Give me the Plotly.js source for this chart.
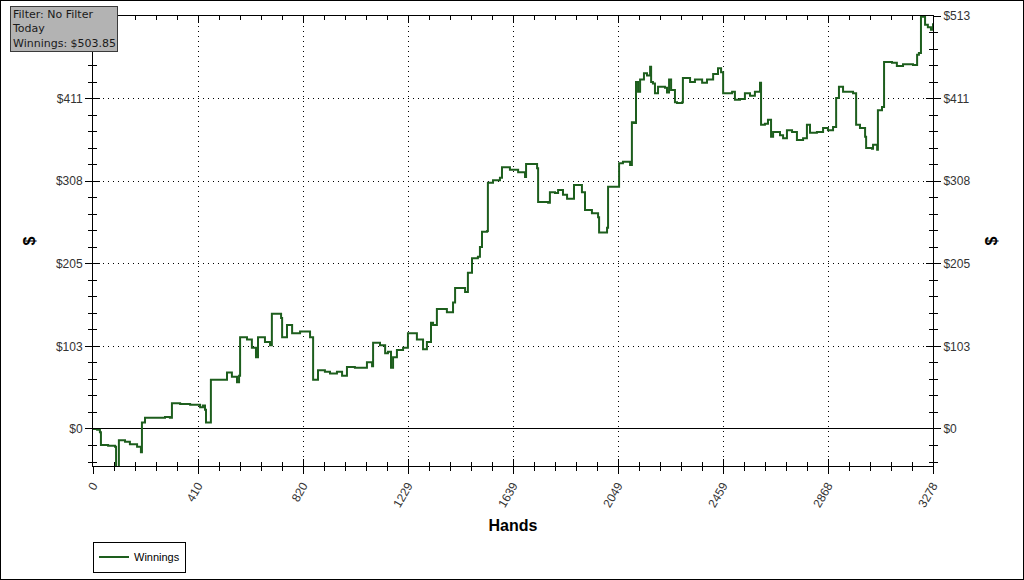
<!DOCTYPE html>
<html>
<head>
<meta charset="utf-8">
<script src="https://cdn.plot.ly/plotly-3.0.1.min.js"></script>
<style>
  html, body { margin: 0; padding: 0; background: #fff; }
  #frame { width: 1024px; height: 580px; box-sizing: border-box; border: 1px solid #000; }
  #chart { width: 1022px; height: 578px; }
</style>
</head>
<body>
<div id="frame"><div id="chart"></div></div>
<script>
// ---- data ----
const hands = [0,16,27,31,59,86,90,101,125,144,172,187,191,203,242,281,300,308,340,379,418,429,437,441,457,460,496,523,542,562,570,574,601,620,636,644,671,691,698,734,738,757,777,808,820,847,859,878,905,925,952,972,991,1022,1042,1069,1089,1093,1120,1140,1151,1163,1171,1186,1210,1229,1264,1288,1303,1319,1327,1342,1381,1405,1413,1452,1463,1479,1502,1510,1518,1538,1541,1561,1588,1596,1627,1659,1686,1690,1733,1737,1776,1783,1803,1815,1834,1850,1873,1877,1908,1920,1947,1971,1975,1998,2006,2010,2029,2049,2053,2068,2096,2103,2111,2119,2127,2135,2150,2162,2174,2178,2185,2193,2205,2232,2240,2248,2256,2271,2279,2299,2302,2330,2349,2377,2396,2420,2439,2451,2459,2494,2505,2525,2544,2564,2583,2603,2607,2622,2634,2646,2654,2681,2693,2708,2728,2747,2771,2786,2798,2825,2849,2868,2888,2900,2911,2927,2966,2978,2993,3013,3017,3040,3044,3060,3063,3079,3087,3118,3137,3161,3188,3200,3216,3223,3231,3239,3247,3258,3270,3278];
const winnings = [0,-1,-4,-20,-21,-22,-51,-14,-16,-19,-22,-29,8,14,14,15,14,32,31,30,27,29,24,8,8,61,61,70,65,58,66,114,111,101,89,114,108,104,143,138,114,129,119,121,121,114,61,73,71,69,71,66,77,76,76,83,78,107,104,94,96,76,89,98,101,119,111,99,108,132,129,149,145,157,175,170,194,212,214,226,245,246,306,309,312,325,322,319,313,329,324,282,281,294,293,297,291,286,286,303,294,272,268,263,244,244,250,301,301,301,330,332,328,381,380,431,419,434,442,439,450,431,429,417,425,424,418,434,421,406,405,406,436,431,434,430,434,441,448,443,417,419,409,410,417,414,419,430,378,379,384,363,369,365,361,371,369,359,361,378,368,369,374,371,375,411,425,419,417,378,374,363,349,348,353,347,396,400,456,455,451,453,453,452,465,467,513,512,502,499,496,503.85];
const seriesName = "Winnings";
const xTickVals = [0, 409.75, 819.5, 1229.25, 1639, 2048.75, 2458.5, 2868.25, 3278];
const xTickLabels = ["0","410","820","1229","1639","2049","2459","2868","3278"];
const yTickVals = [0, 102.6, 205.2, 307.8, 410.4, 513];
const yTickLabelsRight = ["$0","$103","$205","$308","$411","$513"];
// on the left the top label is hidden behind the info box in the reference
const yTickLabelsLeft = ["$0","$103","$205","$308","$411",""];
const infoLines = ["Filter: No Filter", "Today", "Winnings: $503.85"];

// ---- chart ----
const xRange = [0, 3278];
const yRange = [-46, 513];
const tickFont = {family: "Liberation Sans, Arial, sans-serif", size: 12, color: "#333"};
const titleFont = {family: "Liberation Sans, Arial, sans-serif", size: 16, color: "#000", weight: "bold"};
const dotGrid = "1px,4px";

const traces = [
  {x: hands, y: winnings, type: "scatter", mode: "lines", name: seriesName,
   line: {color: "#1d5e1d", width: 2, shape: "hv"}, xaxis: "x", yaxis: "y"},
  {x: hands, y: winnings, type: "scatter", mode: "lines", showlegend: false, hoverinfo: "skip",
   opacity: 0, xaxis: "x", yaxis: "y2"},
  {x: hands, y: winnings, type: "scatter", mode: "lines", showlegend: false, hoverinfo: "skip",
   opacity: 0, xaxis: "x2", yaxis: "y3"}
];

const layout = {
  width: 1022, height: 578,
  margin: {l: 92, r: 90, t: 15, b: 113, autoexpand: false},
  paper_bgcolor: "#fff", plot_bgcolor: "#fff",
  showlegend: true,
  xaxis: {
    range: xRange, tickmode: "array", tickvals: xTickVals, ticktext: xTickLabels,
    ticks: "outside", ticklen: 7, tickcolor: "#000", tickwidth: 1,
    showline: true, linecolor: "#000", linewidth: 1, mirror: false,
    showgrid: true, gridcolor: "#000", gridwidth: 1, griddash: dotGrid,
    zeroline: false, tickangle: -60, tickfont: tickFont, automargin: false,
    minor: {ticks: "outside", ticklen: 4, tick0: 0, dtick: 3278/40, tickcolor: "#000", showgrid: false},
    title: {text: "Hands", font: titleFont, standoff: 10},
    fixedrange: true
  },
  xaxis2: {
    overlaying: "x", anchor: "y3", side: "bottom", range: xRange, automargin: false,
    tickmode: "array", tickvals: xTickVals, showticklabels: false,
    ticks: "inside", ticklen: 7, tickcolor: "#000", tickwidth: 1,
    showline: true, linecolor: "#000", linewidth: 1, mirror: "allticks",
    showgrid: false, zeroline: false,
    minor: {ticks: "inside", ticklen: 4, tick0: 0, dtick: 3278/40, tickcolor: "#000", showgrid: false}
  },
  yaxis: {
    range: yRange, tickmode: "array", tickvals: yTickVals, ticktext: yTickLabelsLeft,
    ticks: "outside", ticklen: 7, tickcolor: "#000", tickwidth: 1,
    showline: true, linecolor: "#000", linewidth: 1, automargin: false,
    showgrid: true, gridcolor: "#000", gridwidth: 1, griddash: dotGrid,
    zeroline: true, zerolinecolor: "#000", zerolinewidth: 1,
    tickfont: tickFont,
    minor: {ticks: "outside", ticklen: 4, tick0: 0, dtick: 102.6/5, tickcolor: "#000", showgrid: false},
    title: {text: "$", font: titleFont, standoff: 16},
    fixedrange: true
  },
  yaxis2: {
    overlaying: "y", anchor: "x", side: "right", range: yRange, automargin: false,
    tickmode: "array", tickvals: yTickVals, ticktext: yTickLabelsRight,
    ticks: "outside", ticklen: 7, tickcolor: "#000", tickwidth: 1,
    showline: true, linecolor: "#000", linewidth: 1,
    showgrid: false, zeroline: false, tickfont: tickFont,
    minor: {ticks: "outside", ticklen: 4, tick0: 0, dtick: 102.6/5, tickcolor: "#000", showgrid: false},
    title: {text: "$", font: titleFont, standoff: 16}
  },
  yaxis3: {
    overlaying: "y", anchor: "x2", side: "left", range: yRange, automargin: false,
    tickmode: "array", tickvals: yTickVals, showticklabels: false,
    ticks: "inside", ticklen: 7, tickcolor: "#000", tickwidth: 1,
    showline: true, linecolor: "#000", linewidth: 1, mirror: "allticks",
    showgrid: false, zeroline: false,
    minor: {ticks: "inside", ticklen: 4, tick0: 0, dtick: 102.6/5, tickcolor: "#000", showgrid: false}
  },
  legend: {
    x: 0, y: -0.168, xanchor: "left", yanchor: "top",
    bgcolor: "#fff", bordercolor: "#000", borderwidth: 1,
    font: {family: "Liberation Sans, Arial, sans-serif", size: 11, color: "#000"},
    itemwidth: 30
  },
  annotations: [{
    xref: "paper", yref: "paper", x: -0.0988, y: 1.0222, xanchor: "left", yanchor: "top",
    text: infoLines.join("<br>"), showarrow: false, align: "left",
    bgcolor: "#b3b3b3", bordercolor: "#3a3a3a", borderwidth: 1, borderpad: 1,
    font: {family: "DejaVu Sans, sans-serif", size: 11, color: "#1a1a1a"}
  }]
};

Plotly.newPlot("chart", traces, layout, {displayModeBar: false, staticPlot: true});
</script>
</body>
</html>
